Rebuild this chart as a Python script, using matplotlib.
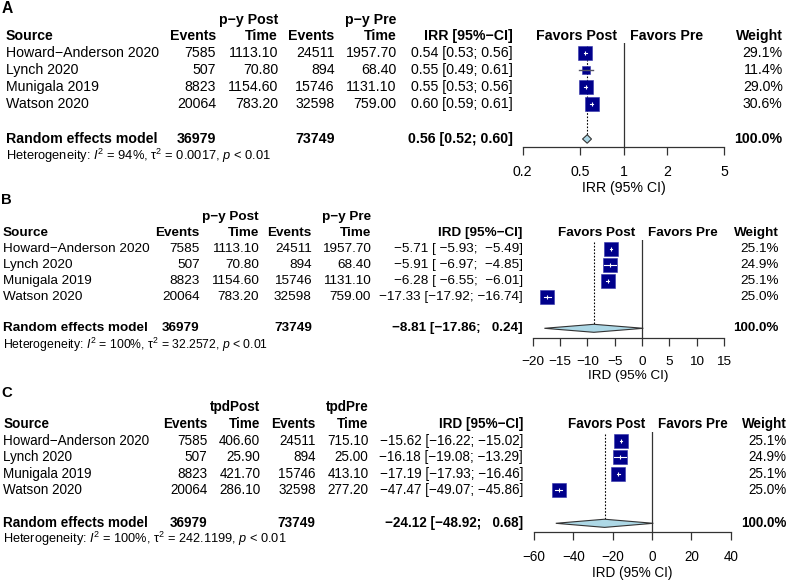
import numpy as np
import matplotlib.pyplot as plt
from matplotlib.patches import Polygon

plt.rcParams['font.family'] = ['Liberation Sans', 'DejaVu Sans']
plt.rcParams['mathtext.fontset'] = 'custom'
plt.rcParams['mathtext.rm'] = 'Liberation Sans'
plt.rcParams['mathtext.it'] = 'Liberation Sans:italic'
plt.rcParams['mathtext.bf'] = 'Liberation Sans:bold'

# --- data ---
studies = ["Howard\u2212Anderson 2020", "Lynch 2020", "Munigala 2019", "Watson 2020"]
events_post = [7585, 507, 8823, 20064]
events_pre = [24511, 894, 15746, 32598]
py_post = [1113.10, 70.80, 1154.60, 783.20]
py_pre = [1957.70, 68.40, 1131.10, 759.00]
tpd_post = [406.60, 25.90, 421.70, 286.10]
tpd_pre = [715.10, 25.00, 413.10, 277.20]
total_post, total_pre = 36979, 73749

irr = [0.54, 0.55, 0.55, 0.60]
irr_lo = [0.53, 0.49, 0.53, 0.59]
irr_hi = [0.56, 0.61, 0.56, 0.61]
irr_w = [29.1, 11.4, 29.0, 30.6]
irr_re = (0.56, 0.52, 0.60)
irr_het = "Heterogeneity: $I^2$ = 94%, \u03c4$^2$ = 0.0017, $p$ < 0.01"

ird_py = [-5.71, -5.91, -6.28, -17.33]
ird_py_lo = [-5.93, -6.97, -6.55, -17.92]
ird_py_hi = [-5.49, -4.85, -6.01, -16.74]
ird_py_w = [25.1, 24.9, 25.1, 25.0]
ird_py_re = (-8.81, -17.86, 0.24)
ird_py_het = "Heterogeneity: $I^2$ = 100%, \u03c4$^2$ = 32.2572, $p$ < 0.01"

ird_tpd = [-15.62, -16.18, -17.19, -47.47]
ird_tpd_lo = [-16.22, -19.08, -17.93, -49.07]
ird_tpd_hi = [-15.02, -13.29, -16.46, -45.86]
ird_tpd_w = [25.1, 24.9, 25.1, 25.0]
ird_tpd_re = (-24.12, -48.92, 0.68)
ird_tpd_het = "Heterogeneity: $I^2$ = 100%, \u03c4$^2$ = 242.1199, $p$ < 0.01"

W, H = 787, 584
fig = plt.figure(figsize=(W / 100, H / 100), dpi=100)
bg = fig.add_axes([0, 0, 1, 1])
bg.set_xlim(0, W)
bg.set_ylim(H, 0)
bg.axis('off')

SQ = '#00008B'
DIA = '#ADD8E6'


def m(s):
    return s.replace('-', '\u2212')


def fmt_ci(est, lo, hi):
    vals = ["%.2f" % v for v in list(est) + list(lo) + list(hi)]
    wd = max(len(v) for v in vals)
    return [m("%.2f [%*.2f; %*.2f]" % (e, wd, l, wd, h)) for e, l, h in zip(est, lo, hi)]


def panel(letter, L, head_post, head_pre, t_post, t_pre, est, lo, hi, wt, re, het,
          est_head, xlab, xlim, xticks, log, ref):
    fs = L['fs']
    txt = dict(fontsize=fs, va='center')
    bold = dict(fontsize=fs, va='center', fontweight='bold')
    bg.text(L['x_letter'], L['y_letter'], letter, fontsize=fs * 1.1, fontweight='bold', va='center')
    # header rows
    bg.text(L['x_t1'], L['y_h1'], head_post, ha='right', **bold)
    bg.text(L['x_t2'], L['y_h1'], head_pre, ha='right', **bold)
    y2 = L['y_h2']
    bg.text(L['x_src'], y2, "Source", ha='left', **bold)
    bg.text(L['x_ev1'], y2, "Events", ha='right', **bold)
    bg.text(L['x_t1'], y2, "Time", ha='right', **bold)
    bg.text(L['x_ev2'], y2, "Events", ha='right', **bold)
    bg.text(L['x_t2'], y2, "Time", ha='right', **bold)
    bg.text(L['x_est'], y2, m(est_head), ha='right', **bold)
    bg.text(L['x_fp'], y2, "Favors Post", ha='right', **bold)
    bg.text(L['x_fr'], y2, "Favors Pre", ha='left', **bold)
    bg.text(L['x_wt'], y2, "Weight", ha='right', **bold)

    labs = fmt_ci(est, lo, hi)
    for i, s in enumerate(studies):
        y = L['y_r0'] + i * L['step']
        bg.text(L['x_src'], y, s, ha='left', **txt)
        bg.text(L['x_ev1'], y, "%d" % events_post[i], ha='right', **txt)
        bg.text(L['x_t1'], y, "%.2f" % t_post[i], ha='right', **txt)
        bg.text(L['x_ev2'], y, "%d" % events_pre[i], ha='right', **txt)
        bg.text(L['x_t2'], y, "%.2f" % t_pre[i], ha='right', **txt)
        bg.text(L['x_est'], y, labs[i], ha='right', **txt)
        bg.text(L['x_wt'], y, "%.1f%%" % wt[i], ha='right', **txt)

    yr = L['y_re']
    bg.text(L['x_src'], yr, "Random effects model", ha='left', **bold)
    bg.text(L['x_ev1'], yr, "%d" % total_post, ha='right', **bold)
    bg.text(L['x_ev2'], yr, "%d" % total_pre, ha='right', **bold)
    bg.text(L['x_est'], yr, fmt_ci([re[0]], [re[1]], [re[2]])[0], ha='right', **bold)
    bg.text(L['x_wt'], yr, "100.0%", ha='right', **bold)
    bg.text(L['x_src'], L['y_het'], het, ha='left', fontsize=fs * L['het'], va='center')

    # forest axes
    x0, x1 = L['x_f0'], L['x_f1']
    ytop, ybot = L['y_top'], L['y_axis']
    ax = fig.add_axes([x0 / W, 1 - ybot / H, (x1 - x0) / W, (ybot - ytop) / H])
    if log:
        ax.set_xscale('log')
    ax.set_xlim(*xlim)
    r0, st = L['y_r0'], L['step']
    ax.set_ylim((ybot - r0) / st, (ytop - r0) / st)
    ax.patch.set_visible(False)
    for sp in ['top', 'left', 'right']:
        ax.spines[sp].set_visible(False)
    ax.spines['bottom'].set_color('#333333')
    ax.spines['bottom'].set_linewidth(0.9)
    ax.set_yticks([])
    ax.set_xticks(xticks)
    ax.set_xticklabels([m("%g" % t) for t in xticks])
    ax.minorticks_off()
    ax.tick_params(axis='x', direction='out', length=6, width=0.9, color='#333333',
                   labelsize=fs, pad=7)
    ax.set_xlabel(xlab, fontsize=fs, labelpad=1.5)

    ax.axvline(ref, color='#333333', lw=0.9, zorder=1)
    re_row = (yr - r0) / st
    ax.plot([re[0], re[0]], [-0.45, re_row - 0.25], color='black', lw=0.8,
            ls=(0, (1.5, 1.5)), zorder=1)
    wmax = max(wt)
    tr = ax.transData
    for i in range(len(studies)):
        side = L['sq'] * np.sqrt(wt[i] / wmax)
        ax.plot(est[i], i, marker='s', ms=side * 0.72, color=SQ, mec='#3333aa', mew=0.4, zorder=3)
        cx, cy = tr.transform((est[i], i))
        a = tr.inverted().transform((cx - side / 2, cy))[0]
        b = tr.inverted().transform((cx + side / 2, cy))[0]
        if lo[i] >= a and hi[i] <= b:
            # interval fits inside the square: drawn in white
            ax.plot([lo[i], hi[i]], [i, i], color='white', lw=0.8, zorder=4)
            ax.plot(est[i], i, marker='|', ms=3, mew=0.8, color='white', zorder=4)
        else:
            ax.plot([lo[i], hi[i]], [i, i], color='#555566', lw=1.0, zorder=4)
    dia = Polygon([(re[1], re_row), (re[0], re_row - 0.25), (re[2], re_row), (re[0], re_row + 0.25)],
                  closed=True, facecolor=DIA, edgecolor='#333333', lw=0.8, zorder=3, clip_on=False)
    ax.add_patch(dia)


lay_a = dict(fs=10.2, het=0.91, x_letter=2, y_letter=8.5, y_h1=20, y_h2=36, y_r0=53.3, step=17,
             y_re=139, y_het=155.5, y_top=43, y_axis=146.5,
             x_src=6, x_ev1=216, x_t1=278, x_ev2=334.5, x_t2=396.7, x_est=512.5,
             x_fp=616.7, x_fr=630, x_wt=782.7, x_f0=522.7, x_f1=724.3, sq=13.8)
lay_b = dict(fs=9.7, het=0.91, x_letter=1, y_letter=200, y_h1=217, y_h2=232.7, y_r0=249.3, step=16,
             y_re=328.3, y_het=345, y_top=240, y_axis=337.7,
             x_src=3, x_ev1=199.7, x_t1=258.8, x_ev2=311.8, x_t2=370.9, x_est=522.7,
             x_fp=635, x_fr=648, x_wt=779, x_f0=532.7, x_f1=724, sq=13.3)
lay_c = dict(fs=9.75, het=0.94, x_letter=1, y_letter=393.3, y_h1=407.5, y_h2=424.3, y_r0=441, step=16.3,
             y_re=523.3, y_het=539, y_top=431.7, y_axis=531.7,
             x_src=3.4, x_ev1=207.5, x_t1=260.3, x_ev2=315.7, x_t2=368.5, x_est=523,
             x_fp=645, x_fr=658, x_wt=786.7, x_f0=534, x_f1=730.7, sq=13.6)

panel("A", lay_a, "p\u2212y Post", "p\u2212y Pre", py_post, py_pre, irr, irr_lo, irr_hi, irr_w,
      irr_re, irr_het, "IRR [95%-CI]", "IRR (95% CI)", (0.2, 5), [0.2, 0.5, 1, 2, 5], True, 1)
panel("B", lay_b, "p\u2212y Post", "p\u2212y Pre", py_post, py_pre, ird_py, ird_py_lo, ird_py_hi,
      ird_py_w, ird_py_re, ird_py_het, "IRD [95%-CI]", "IRD (95% CI)", (-20, 15),
      [-20, -15, -10, -5, 0, 5, 10, 15], False, 0)
panel("C", lay_c, "tpdPost", "tpdPre", tpd_post, tpd_pre, ird_tpd, ird_tpd_lo, ird_tpd_hi,
      ird_tpd_w, ird_tpd_re, ird_tpd_het, "IRD [95%-CI]", "IRD (95% CI)", (-60, 40),
      [-60, -40, -20, 0, 20, 40], False, 0)

fig.savefig("out.png", dpi=100)
